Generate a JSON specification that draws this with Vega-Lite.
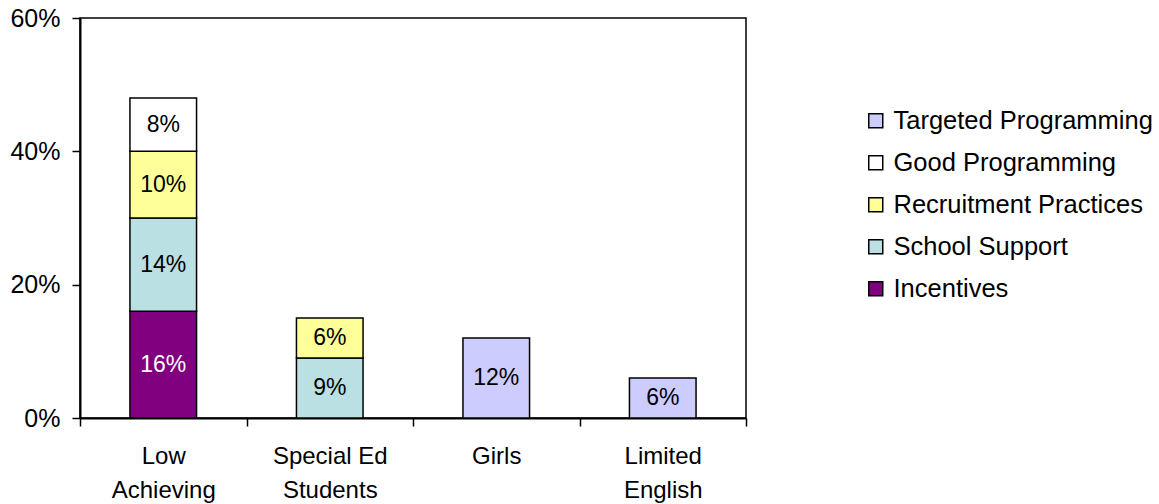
{
  "$schema": "https://vega.github.io/schema/vega-lite/v6.json",
  "autosize": "none",
  "width": 666,
  "height": 400,
  "padding": {"left": 80, "top": 18, "right": 413, "bottom": 86},
  "background": "white",
  "config": {
    "font": "Liberation Sans",
    "view": {"stroke": "black", "strokeWidth": 1.5}
  },
  "data": {
    "values": [
      {"group": "Low Achieving", "program": "Incentives", "layer": 1, "value": 0.16},
      {"group": "Low Achieving", "program": "School Support", "layer": 2, "value": 0.14},
      {"group": "Low Achieving", "program": "Recruitment Practices", "layer": 3, "value": 0.10},
      {"group": "Low Achieving", "program": "Good Programming", "layer": 4, "value": 0.08},
      {"group": "Special Ed Students", "program": "School Support", "layer": 2, "value": 0.09},
      {"group": "Special Ed Students", "program": "Recruitment Practices", "layer": 3, "value": 0.06},
      {"group": "Girls", "program": "Targeted Programming", "layer": 5, "value": 0.12},
      {"group": "Limited English", "program": "Targeted Programming", "layer": 5, "value": 0.06}
    ]
  },
  "transform": [
    {"stack": "value", "groupby": ["group"], "sort": [{"field": "layer", "order": "ascending"}], "as": ["v0", "v1"]},
    {"calculate": "(datum.v0 + datum.v1) / 2", "as": "vmid"}
  ],
  "encoding": {
    "x": {
      "field": "group",
      "type": "nominal",
      "sort": ["Low Achieving", "Special Ed Students", "Girls", "Limited English"],
      "scale": {"paddingInner": 0, "paddingOuter": 0},
      "axis": {
        "title": null,
        "labelAngle": 0,
        "tickBand": "extent",
        "domainColor": "black",
        "domainWidth": 2,
        "tickColor": "black",
        "tickWidth": 1.5,
        "tickSize": 8,
        "labelFontSize": 24,
        "labelColor": "black",
        "labelPadding": 18,
        "labelLineHeight": 34,
        "labelExpr": "datum.label == 'Special Ed Students' ? ['Special Ed', 'Students'] : split(datum.label, ' ')"
      }
    }
  },
  "layer": [
    {
      "mark": {"type": "bar", "width": {"band": 0.4}, "stroke": "black", "strokeWidth": 1.5},
      "encoding": {
        "y": {
          "field": "v0",
          "type": "quantitative",
          "scale": {"domain": [0, 0.6]},
          "axis": {
            "title": null,
            "values": [0, 0.2, 0.4, 0.6],
            "format": ".0%",
            "grid": false,
            "domainColor": "black",
            "domainWidth": 2,
            "tickColor": "black",
            "tickWidth": 1.5,
            "tickSize": 8,
            "labelFontSize": 25,
            "labelColor": "black",
            "labelPadding": 12
          }
        },
        "y2": {"field": "v1"},
        "color": {
          "field": "program",
          "type": "nominal",
          "scale": {
            "domain": ["Targeted Programming", "Good Programming", "Recruitment Practices", "School Support", "Incentives"],
            "range": ["#CCCCFF", "#FFFFFF", "#FFFF99", "#BBE0E3", "#800080"]
          },
          "legend": {
            "title": null,
            "orient": "none",
            "legendX": 783,
            "legendY": 90,
            "padding": 0,
            "symbolType": "square",
            "symbolSize": 196,
            "symbolStrokeColor": "black",
            "symbolStrokeWidth": 1.5,
            "labelFontSize": 25.5,
            "labelColor": "black",
            "labelOffset": 5,
            "rowPadding": 15,
            "labelLimit": 400
          }
        },
        "order": {"field": "layer", "type": "quantitative"}
      }
    },
    {
      "mark": {"type": "text", "fontSize": 23, "baseline": "middle", "align": "center"},
      "encoding": {
        "y": {"field": "vmid", "type": "quantitative", "scale": {"domain": [0, 0.6]}},
        "text": {"field": "value", "type": "quantitative", "format": ".0%"},
        "color": {
          "condition": {"test": "datum.program == 'Incentives'", "value": "white"},
          "value": "black"
        }
      }
    }
  ]
}
